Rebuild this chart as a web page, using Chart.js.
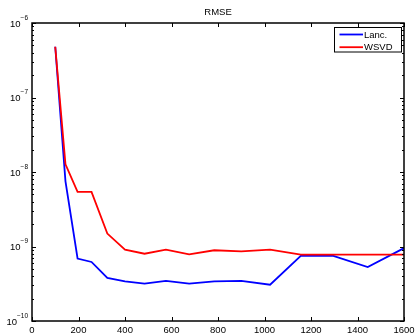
<!DOCTYPE html>
<html>
<head>
<meta charset="utf-8">
<script src="https://cdn.jsdelivr.net/npm/chart.js@4.4.0/dist/chart.umd.min.js"></script>
<style>
  html, body { margin: 0; padding: 0; background: #fff; }
  #chart { display: block; }
</style>
</head>
<body>
<canvas id="chart" width="416" height="334"></canvas>
<script>
// data
const xValues = [100, 144, 196, 256, 324, 400, 484, 576, 676, 784, 900, 1024, 1156, 1296, 1444, 1600]
const lancRmse = [4.8e-7, 7.5e-9, 6.9e-10, 6.2e-10, 3.78e-10, 3.41e-10, 3.18e-10, 3.45e-10, 3.18e-10, 3.41e-10, 3.45e-10, 3.07e-10, 7.5e-10, 7.5e-10, 5.3e-10, 9.5e-10]
const wsvdRmse = [4.8e-7, 1.27e-8, 5.4e-9, 5.4e-9, 1.49e-9, 9.1e-10, 8.0e-10, 9.1e-10, 7.85e-10, 8.9e-10, 8.6e-10, 9.1e-10, 7.8e-10, 7.8e-10, 7.8e-10, 7.8e-10]
const xTicks = [0, 200, 400, 600, 800, 1000, 1200, 1400, 1600]
const yExponents = [-10, -9, -8, -7, -6]
const seriesNames = ["Lanc.", "WSVD"]
const seriesColors = ["#0000ff", "#ff0000"]

const FONT = "Liberation Sans, Arial, Helvetica, sans-serif"

const toPoints = (ys) => xValues.map((x, i) => ({ x: x, y: ys[i] }))

// box, inward ticks, y labels with superscripts, title and legend
const matlabFrame = {
    id: "matlabFrame",
    afterDraw(chart) {
        const ctx = chart.ctx
        const a = chart.chartArea
        const xs = chart.scales.x
        const ys = chart.scales.y
        ctx.save()
        ctx.strokeStyle = "#000"
        ctx.lineWidth = 1

        // x ticks top and bottom
        ctx.beginPath()
        xTicks.forEach(v => {
            const px = Math.round(xs.getPixelForValue(v)) + 0.5
            ctx.moveTo(px, a.bottom); ctx.lineTo(px, a.bottom - 4)
            ctx.moveTo(px, a.top); ctx.lineTo(px, a.top + 4)
        })
        // y major + minor ticks left and right
        yExponents.forEach(e => {
            for (let k = 1; k <= 9; k++) {
                if (e === -6 && k > 1) break
                const py = Math.round(ys.getPixelForValue(k * Math.pow(10, e))) + 0.5
                const len = k === 1 ? 4 : 2
                ctx.moveTo(a.left, py); ctx.lineTo(a.left + len, py)
                ctx.moveTo(a.right, py); ctx.lineTo(a.right - len, py)
            }
        })
        ctx.stroke()

        // frame
        ctx.lineWidth = 1.5
        ctx.strokeRect(a.left, a.top, a.right - a.left, a.bottom - a.top)

        // y labels 10^e
        ctx.fillStyle = "#000"
        ctx.textBaseline = "middle"
        yExponents.forEach(e => {
            const py = ys.getPixelForValue(Math.pow(10, e))
            ctx.font = "6.5px " + FONT
            const sup = "\u2212" + Math.abs(e)
            const supW = ctx.measureText(sup).width
            ctx.textAlign = "left"
            const right = a.left - 4
            ctx.fillText(sup, right - supW, py - 5)
            ctx.font = "9.5px " + FONT
            ctx.textAlign = "right"
            ctx.fillText("10", right - supW, py + 1)
        })

        // title
        ctx.font = "9.5px " + FONT
        ctx.textAlign = "center"
        ctx.fillText("RMSE", (a.left + a.right) / 2, 12)

        // legend
        const lx = 334.5, ly = 27.5, lw = 67, lh = 24.5
        ctx.fillStyle = "#fff"
        ctx.fillRect(lx, ly, lw, lh)
        ctx.lineWidth = 1
        ctx.strokeRect(lx, ly, lw, lh)
        ctx.textAlign = "left"
        seriesNames.forEach((name, i) => {
            const y = 34.5 + i * 12.7
            ctx.strokeStyle = seriesColors[i]
            ctx.lineWidth = 1.8
            ctx.beginPath()
            ctx.moveTo(339.5, y); ctx.lineTo(363, y)
            ctx.stroke()
            ctx.fillStyle = "#000"
            ctx.font = "9.5px " + FONT
            ctx.fillText(name, 364, y + 0.5)
        })
        ctx.restore()
    }
}

const chart = new Chart(document.getElementById("chart"), {
    type: "line",
    data: {
        datasets: [
            {
                label: seriesNames[0],
                data: toPoints(lancRmse),
                borderColor: seriesColors[0],
                borderWidth: 1.8,
                pointRadius: 0,
                fill: false,
                tension: 0,
                order: 1,
            },
            {
                label: seriesNames[1],
                data: toPoints(wsvdRmse),
                borderColor: seriesColors[1],
                borderWidth: 1.8,
                pointRadius: 0,
                fill: false,
                tension: 0,
                order: 0,
            },
        ]
    },
    options: {
        responsive: false,
        animation: false,
        layout: { padding: { top: 23, right: 12, left: 0, bottom: 0 } },
        plugins: {
            legend: { display: false },
            title: { display: false },
            tooltip: { enabled: false },
        },
        scales: {
            x: {
                type: "linear",
                min: 0,
                max: 1600,
                afterBuildTicks: (s) => { s.ticks = xTicks.map(v => ({ value: v })) },
                afterFit: (s) => {
                    s.height = 13
                    s.paddingLeft = 0
                    s.paddingRight = 0
                },
                grid: { display: false, drawTicks: false },
                border: { display: false },
                ticks: {
                    padding: 4,
                    maxRotation: 0,
                    autoSkip: false,
                    color: "#000",
                    font: { family: FONT, size: 9.5 },
                    callback: (v) => String(v),
                },
            },
            y: {
                type: "logarithmic",
                min: 1e-10,
                max: 1e-6,
                afterBuildTicks: (s) => { s.ticks = yExponents.map(e => ({ value: Math.pow(10, e) })) },
                afterFit: (s) => { s.width = 32 },
                grid: { display: false, drawTicks: false },
                border: { display: false },
                ticks: { display: false },
            },
        },
    },
    plugins: [matlabFrame],
})
</script>
</body>
</html>
